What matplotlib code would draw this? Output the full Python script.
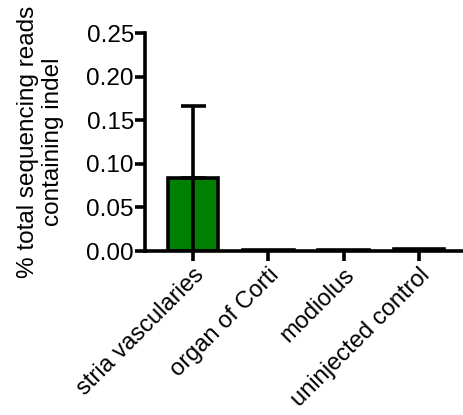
import matplotlib
matplotlib.use("Agg")
import matplotlib.pyplot as plt

# data
categories = ["stria vascularies", "organ of Corti", "modiolus", "uninjected control"]
means = [0.084, 0.001, 0.001, 0.002]
errors = [0.082, 0.0, 0.0, 0.0]
bar_colors = ["#008000", "#ffffff", "#ffffff", "#ffffff"]
yticks = [0.00, 0.05, 0.10, 0.15, 0.20, 0.25]

plt.rcParams['font.family'] = ['Liberation Sans', 'DejaVu Sans']

fig = plt.figure(figsize=(4.64, 4.15), dpi=100)
ax = fig.add_axes([0.3125, 0.395, 0.6875, 0.525])

lw = 2.6
x = list(range(len(categories)))
ax.bar(x, means, width=0.67, color=bar_colors, edgecolor="black", linewidth=lw, zorder=2)
ax.errorbar(x[:1], means[:1], yerr=[[0], errors[:1]], fmt="none", ecolor="black",
            elinewidth=lw, capsize=9, capthick=lw, zorder=3)
# the central line goes down through the bar too
ax.plot([0, 0], [0, means[0]], color="black", lw=lw, zorder=3)

ax.set_xlim(-0.64, 3.6)
ax.set_ylim(0, 0.25)
ax.set_yticks(yticks)
ax.set_yticklabels([f"{v:.2f}" for v in yticks], fontsize=17.5)
ax.set_xticks(x)
ax.set_xticklabels(categories, rotation=45, ha="right", rotation_mode="anchor", fontsize=17)

for s in ["top", "right"]:
    ax.spines[s].set_visible(False)
for s in ["left", "bottom"]:
    ax.spines[s].set_linewidth(lw)
ax.tick_params(width=lw, length=7)
ax.tick_params(axis="y", pad=1)
ax.tick_params(axis="x", pad=2)

ax.set_ylabel("% total sequencing reads\ncontaining indel", fontsize=17.5, labelpad=16)

fig.savefig("out.png", dpi=100)
